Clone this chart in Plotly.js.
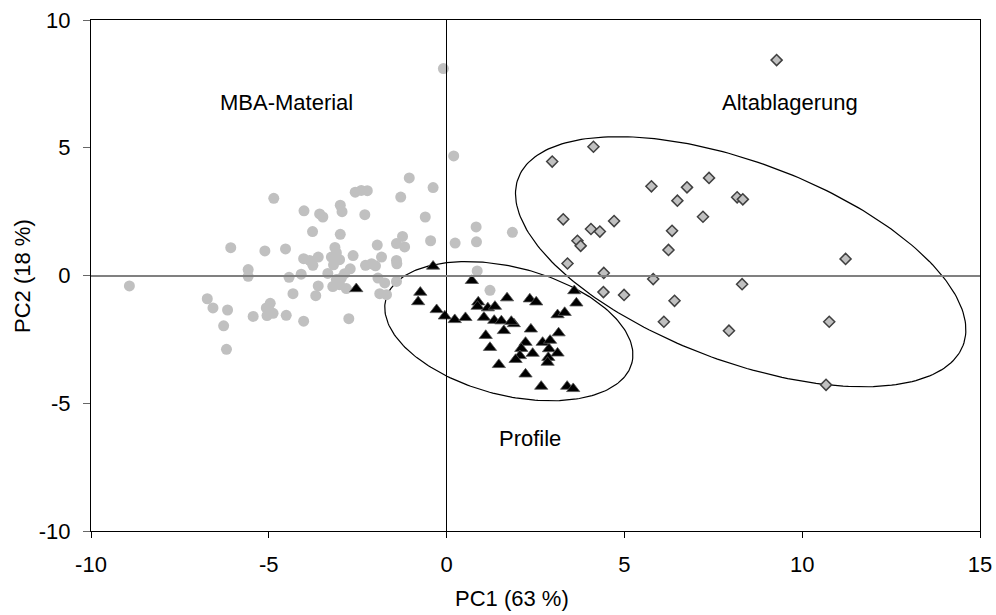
<!DOCTYPE html>
<html>
<head>
<meta charset="utf-8">
<script src="https://cdn.plot.ly/plotly-3.0.1.min.js"></script>
<style>html,body{margin:0;padding:0;background:#fff;}#chart{width:996px;height:615px;}</style>
</head>
<body>
<div id="chart"></div>
<script>
// MBA-Material (grey circles)
var mbaX = [-8.92,-6.73,-6.57,-6.16,-6.27,-6.19,-6.07,-5.44,-5.58,-5.58,-5.11,-4.86,-5.07,-4.96,-4.88,-5.05,-4.53,-4.51,-4.43,-4.32,-4.09,-4.02,-4.01,-3.77,-4.02,-3.85,-3.61,-3.76,-3.68,-3.61,-3.57,-3.48,-3.34,-3.24,-3.10,-3.01,-3.18,-3.14,-3.20,-3.01,-2.82,-2.99,-2.94,-2.99,-2.87,-2.96,-3.10,-2.71,-2.63,-2.75,-2.57,-2.40,-2.23,-2.30,-2.28,-2.11,-2.00,-1.95,-1.93,-1.88,-1.83,-1.74,-1.69,-1.41,-1.40,-1.41,-1.41,-1.24,-1.18,-1.29,-1.05,-0.60,-0.45,-0.38,-0.09,0.20,0.24,0.83,0.84,0.86,1.22,1.85];
var mbaY = [-0.41,-0.91,-1.27,-1.35,-1.97,-2.89,1.09,-1.60,0.23,-0.03,0.96,3.02,-1.27,-1.09,-1.48,-1.57,1.04,-1.56,-0.07,-0.71,0.05,-1.79,2.53,1.72,0.66,0.59,0.72,0.40,-0.79,-0.41,2.41,2.29,0.08,0.72,0.89,0.62,0.42,1.10,-0.43,-0.36,-0.51,2.75,2.50,1.61,0.07,-0.10,-0.16,0.26,0.78,-1.69,3.26,3.33,3.32,2.38,0.40,0.46,0.38,1.19,-0.10,-0.71,0.72,-0.29,-0.75,0.59,0.46,-0.23,1.25,1.53,1.12,3.07,3.82,2.29,1.36,3.44,8.10,4.68,1.27,1.90,1.32,0.18,-0.58,1.69];

// Profile (black triangles)
var profX = [-0.38,0.71,-0.74,-0.80,-0.28,-0.05,0.23,0.53,0.89,0.87,1.16,1.36,1.70,1.05,1.34,1.54,1.89,1.61,2.34,2.52,2.37,1.10,1.22,2.22,2.10,2.06,1.94,2.42,1.47,2.22,2.70,2.91,2.88,3.12,2.86,2.84,3.15,3.12,3.32,3.59,3.65,2.66,3.39,3.56,-2.54,1.82];
var profY = [0.36,-0.20,-0.66,-1.03,-1.34,-1.59,-1.73,-1.65,-1.04,-1.21,-1.27,-1.21,-0.88,-1.64,-1.76,-1.78,-1.89,-2.16,-0.92,-1.04,-2.10,-2.35,-2.82,-2.62,-2.86,-3.14,-3.29,-3.05,-3.49,-3.86,-2.62,-2.54,-2.87,-3.04,-3.21,-3.40,-2.25,-1.54,-1.45,-0.60,-1.08,-4.34,-4.34,-4.43,-0.52,-1.80];

// Altablagerung (grey diamonds)
var altX = [4.13,2.97,5.76,6.76,7.38,6.49,8.17,8.33,7.21,3.28,4.71,4.06,4.31,6.34,3.68,3.77,6.24,3.40,4.42,5.81,8.31,4.41,4.99,6.41,6.11,7.94,9.28,11.22,10.76,10.67];
var altY = [5.04,4.46,3.49,3.45,3.82,2.93,3.06,2.98,2.30,2.20,2.13,1.82,1.72,1.75,1.36,1.16,1.00,0.47,0.10,-0.14,-0.34,-0.65,-0.76,-0.99,-1.81,-2.16,8.43,0.65,-1.81,-4.28];

// Ellipse parameters: centre and two conjugate half-axis vectors (data units)
var ellProfile = {cx: 1.75, cy: -2.18, ux: 3.46, uy: -1.246, vx: -0.450, vy: -2.423};
var ellAlt = {cx: 8.27, cy: 0.54, ux: 6.256, uy: -3.268, vx: -0.983, vy: -3.645};

var groupLabels = ["MBA-Material", "Altablagerung", "Profile"];
var labelX = [-4.50, 9.65, 2.34];
var labelY = [6.77, 6.77, -6.39];

var xTicks = [-10, -5, 0, 5, 10, 15];
var yTicks = [-10, -5, 0, 5, 10];
var xTitle = "PC1 (63 %)";
var yTitle = "PC2 (18 %)";

function ellipse(e) {
  var xs = [], ys = [], n = 240;
  for (var i = 0; i <= n; i++) {
    var t = 2 * Math.PI * i / n;
    xs.push(e.cx + e.ux * Math.cos(t) + e.vx * Math.sin(t));
    ys.push(e.cy + e.uy * Math.cos(t) + e.vy * Math.sin(t));
  }
  return {x: xs, y: ys};
}

var FONT = "Liberation Sans, Arial, Helvetica, sans-serif";
var e1 = ellipse(ellProfile), e2 = ellipse(ellAlt);

var traces = [
  {x: e1.x, y: e1.y, mode: "lines", line: {color: "#000", width: 1.2}, hoverinfo: "skip", type: "scatter"},
  {x: e2.x, y: e2.y, mode: "lines", line: {color: "#000", width: 1.2}, hoverinfo: "skip", type: "scatter"},
  {x: mbaX, y: mbaY, mode: "markers", type: "scatter",
   marker: {symbol: "circle", size: 11, color: "#c0c0c0", line: {width: 0}}},
  {x: profX, y: profY, mode: "markers", type: "scatter",
   marker: {symbol: "triangle-up", size: 11.5, color: "#000", line: {color: "#555", width: 0.8}}},
  {x: altX, y: altY, mode: "markers", type: "scatter",
   marker: {symbol: "diamond", size: 8.5, color: "#c0c0c0", line: {color: "#404040", width: 1.5}}}
];

var annotations = groupLabels.map(function (t, i) {
  return {x: labelX[i], y: labelY[i], xref: "x", yref: "y", text: t, showarrow: false,
          xanchor: "center", yanchor: "middle", font: {family: FONT, size: 22, color: "#000"}};
});
var L = 91, R = 16, T = 20, B = 84, W = 996, H = 615;
var pw = W - L - R, ph = H - T - B;
annotations.push({x: (512 - L) / pw, y: (H - B - 598) / ph, xref: "paper", yref: "paper", text: xTitle, showarrow: false,
  font: {family: FONT, size: 22, color: "#000"}, xanchor: "center", yanchor: "middle"});
annotations.push({x: (22 - L) / pw, y: (H - B - 276) / ph, xref: "paper", yref: "paper", text: yTitle, showarrow: false, textangle: -90,
  font: {family: FONT, size: 22, color: "#000"}, xanchor: "center", yanchor: "middle"});

var layout = {
  width: W, height: H,
  margin: {l: L, r: R, t: T, b: B, pad: 0},
  paper_bgcolor: "#fff", plot_bgcolor: "#fff",
  showlegend: false,
  font: {family: FONT, size: 22, color: "#000"},
  xaxis: {
    range: [-10, 15], tickvals: xTicks, ticktext: xTicks.map(String),
    ticks: "outside", ticklen: 6, tickcolor: "#000", tickwidth: 1,
    showline: true, linecolor: "#000", linewidth: 1, mirror: true,
    showgrid: false, zeroline: true, zerolinecolor: "#000", zerolinewidth: 1,
    tickfont: {family: FONT, size: 22, color: "#000"}, ticklabelstandoff: 8,
    layer: "above traces", zerolinelayer: "above traces", fixedrange: true
  },
  yaxis: {
    range: [-10, 10], tickvals: yTicks, ticktext: yTicks.map(String),
    ticks: "outside", ticklen: 7, tickcolor: "#666", tickwidth: 1,
    showline: true, linecolor: "#000", linewidth: 1, mirror: true,
    showgrid: false, zeroline: true, zerolinecolor: "#808080", zerolinewidth: 2,
    tickfont: {family: FONT, size: 22, color: "#000"}, ticklabelstandoff: 8,
    layer: "above traces", zerolinelayer: "above traces", fixedrange: true
  },
  annotations: annotations
};

Plotly.newPlot("chart", traces, layout, {displayModeBar: false, staticPlot: true});
</script>
</body>
</html>
